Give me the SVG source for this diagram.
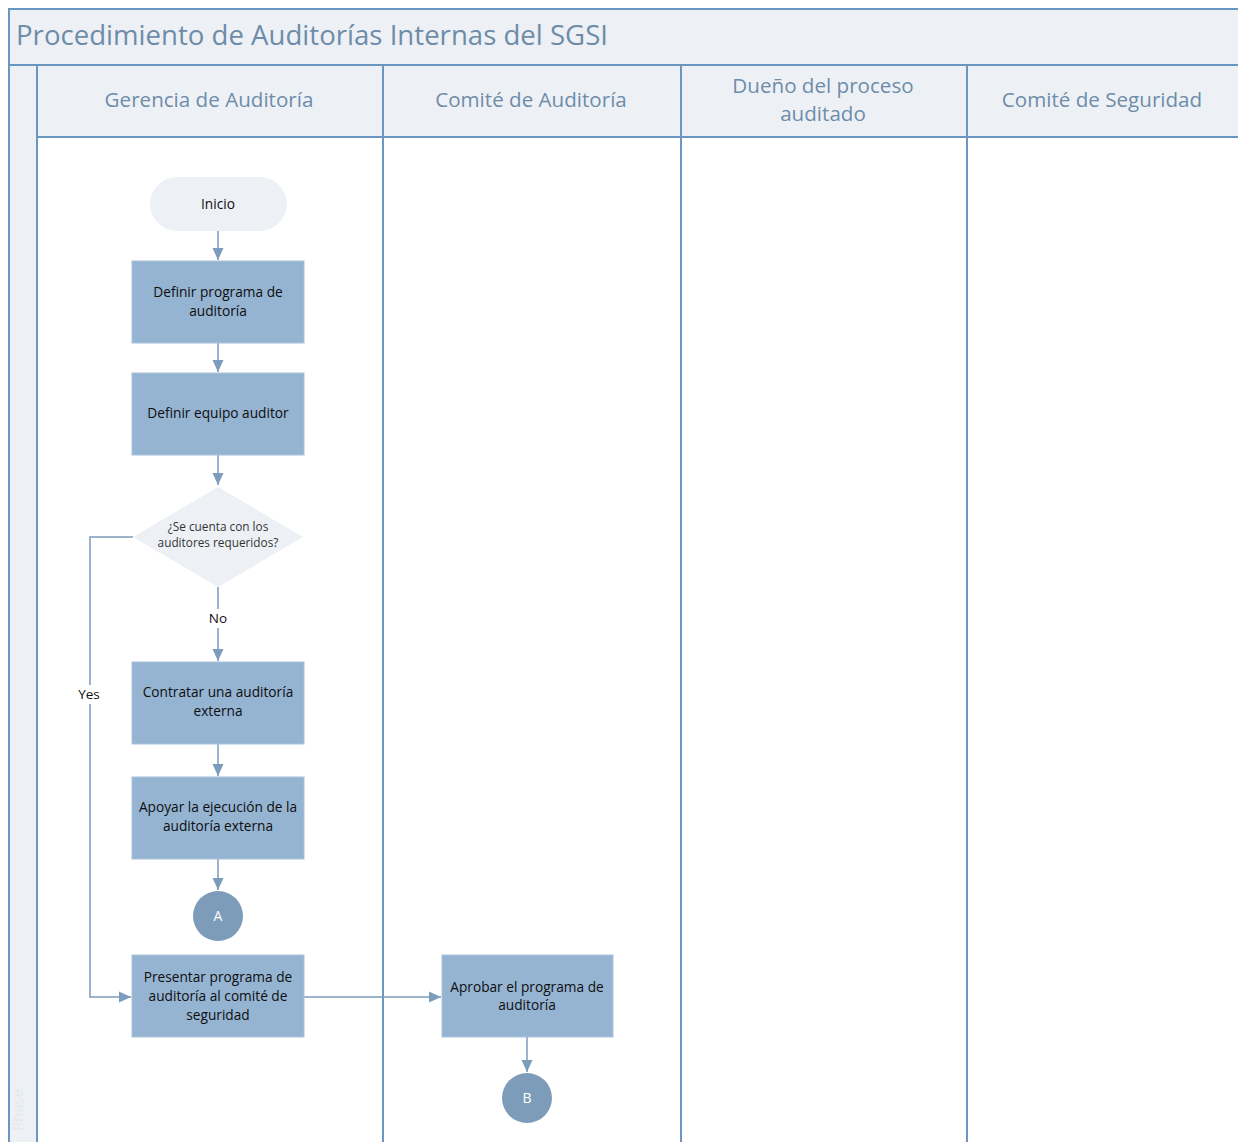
<svg xmlns="http://www.w3.org/2000/svg" width="1238" height="1142" viewBox="0 0 1238 1142">
  <style>
    .band { fill: #EDF1F6; }
    .grid { stroke: #6A96BF; stroke-width: 2; fill: none; }
    .title { font-family: "Open Sans", "Liberation Sans", Arial, sans-serif; font-size: 27.6px; fill: #6E8CA8; }
    .lane { font-family: "Open Sans", "Liberation Sans", Arial, sans-serif; font-size: 20.6px; fill: #6E8CA8; text-anchor: middle; }
    .task { fill: #95B4D2; stroke: #A9C2DC; stroke-width: 1; }
    .term { fill: #EDF1F6; }
    .conn-ref { fill: #7C9CBA; }
    .txt { font-family: "Open Sans", "Liberation Sans", Arial, sans-serif; font-size: 13.7px; fill: #0E0E0E; text-anchor: middle; }
    .small { font-family: "Open Sans", "Liberation Sans", Arial, sans-serif; font-size: 11.8px; fill: #333333; text-anchor: middle; }
    .reftxt { font-family: "Open Sans", "Liberation Sans", Arial, sans-serif; font-size: 14px; fill: #FFFFFF; text-anchor: middle; }
    .edge { stroke: #7B9CBB; stroke-width: 1.5; fill: none; }
    .lbl { font-family: "Open Sans", "Liberation Sans", Arial, sans-serif; font-size: 13.5px; fill: #0E0E0E; text-anchor: middle; }
  </style>
  <defs>
    <marker id="arrow" viewBox="0 0 12 12" refX="12" refY="6" markerWidth="12" markerHeight="12" markerUnits="userSpaceOnUse" orient="auto">
      <path d="M0,0.5 L12,6 L0,11.5 z" fill="#7B9CBB"/>
    </marker>
  </defs>

  <rect width="1238" height="1142" fill="#FFFFFF"/>

  <!-- pool frame -->
  <g id="pool">
    <rect class="band" x="9" y="9" width="1229" height="56"/>
    <rect class="band" x="37" y="65" width="1201" height="72"/>
    <rect class="band" x="9" y="65" width="28" height="1077"/>
    <text class="title" x="16" y="45">Procedimiento de Auditorías Internas del SGSI</text>
    <text x="23" y="1110" transform="rotate(-90 23 1110)" font-family="Open Sans, Liberation Sans, Arial, sans-serif" font-size="15" fill="#E2E8EF" text-anchor="middle">Phase</text>
    <path class="grid" d="M1238,9 H9 V1142 M9,65 H1238 M37,137 H1238 M37,65 V1142 M383,65 V1142 M681,65 V1142 M967,65 V1142"/>
  </g>

  <!-- lane headers -->
  <g id="lane-gerencia"><text class="lane" x="209" y="107">Gerencia de Auditoría</text></g>
  <g id="lane-comite-auditoria"><text class="lane" x="531" y="107">Comité de Auditoría</text></g>
  <g id="lane-dueno">
    <text class="lane" x="823" y="93">Dueño del proceso</text>
    <text class="lane" x="823" y="121">auditado</text>
  </g>
  <g id="lane-comite-seguridad"><text class="lane" x="1102" y="107">Comité de Seguridad</text></g>

  <!-- connectors -->
  <g id="connectors">
    <path class="edge" d="M218,231 V260" marker-end="url(#arrow)"/>
    <path class="edge" d="M218,343 V372" marker-end="url(#arrow)"/>
    <path class="edge" d="M218,455 V485" marker-end="url(#arrow)"/>
    <path class="edge" d="M218,587 V609 M218,628 V661" marker-end="url(#arrow)"/>
    <path class="edge" d="M218,744 V776" marker-end="url(#arrow)"/>
    <path class="edge" d="M218,859 V890" marker-end="url(#arrow)"/>
    <path class="edge" d="M133,537 H90 V685 M90,704 V997 H131" marker-end="url(#arrow)"/>
    <path class="edge" d="M304,997 H441" marker-end="url(#arrow)"/>
    <path class="edge" d="M527,1037 V1072" marker-end="url(#arrow)"/>
    <text class="lbl" x="218" y="623">No</text>
    <text class="lbl" x="89" y="699">Yes</text>
  </g>

  <!-- nodes -->
  <g id="inicio">
    <rect class="term" x="150" y="177" width="137" height="54" rx="27"/>
    <text class="txt" x="218" y="209">Inicio</text>
  </g>
  <g id="definir-programa">
    <rect class="task" x="132" y="261" width="172" height="82"/>
    <text class="txt" x="218" y="297">Definir programa de</text>
    <text class="txt" x="218" y="316">auditoría</text>
  </g>
  <g id="definir-equipo">
    <rect class="task" x="132" y="373" width="172" height="82"/>
    <text class="txt" x="218" y="418">Definir equipo auditor</text>
  </g>
  <g id="decision-auditores">
    <polygon class="term" points="218,487 303,537 218,587 133,537"/>
    <text class="small" x="218" y="531">¿Se cuenta con los</text>
    <text class="small" x="218" y="547">auditores requeridos?</text>
  </g>
  <g id="contratar">
    <rect class="task" x="132" y="662" width="172" height="82"/>
    <text class="txt" x="218" y="697">Contratar una auditoría</text>
    <text class="txt" x="218" y="716">externa</text>
  </g>
  <g id="apoyar">
    <rect class="task" x="132" y="777" width="172" height="82"/>
    <text class="txt" x="218" y="812">Apoyar la ejecución de la</text>
    <text class="txt" x="218" y="831">auditoría externa</text>
  </g>
  <g id="ref-a">
    <circle class="conn-ref" cx="218" cy="916" r="25"/>
    <text class="reftxt" x="218" y="921">A</text>
  </g>
  <g id="presentar">
    <rect class="task" x="132" y="955" width="172" height="82"/>
    <text class="txt" x="218" y="982">Presentar programa de</text>
    <text class="txt" x="218" y="1001">auditoría al comité de</text>
    <text class="txt" x="218" y="1020">seguridad</text>
  </g>
  <g id="aprobar">
    <rect class="task" x="442" y="955" width="171" height="82"/>
    <text class="txt" x="527" y="992">Aprobar el programa de</text>
    <text class="txt" x="527" y="1010">auditoría</text>
  </g>
  <g id="ref-b">
    <circle class="conn-ref" cx="527" cy="1098" r="25"/>
    <text class="reftxt" x="527" y="1103">B</text>
  </g>
</svg>
